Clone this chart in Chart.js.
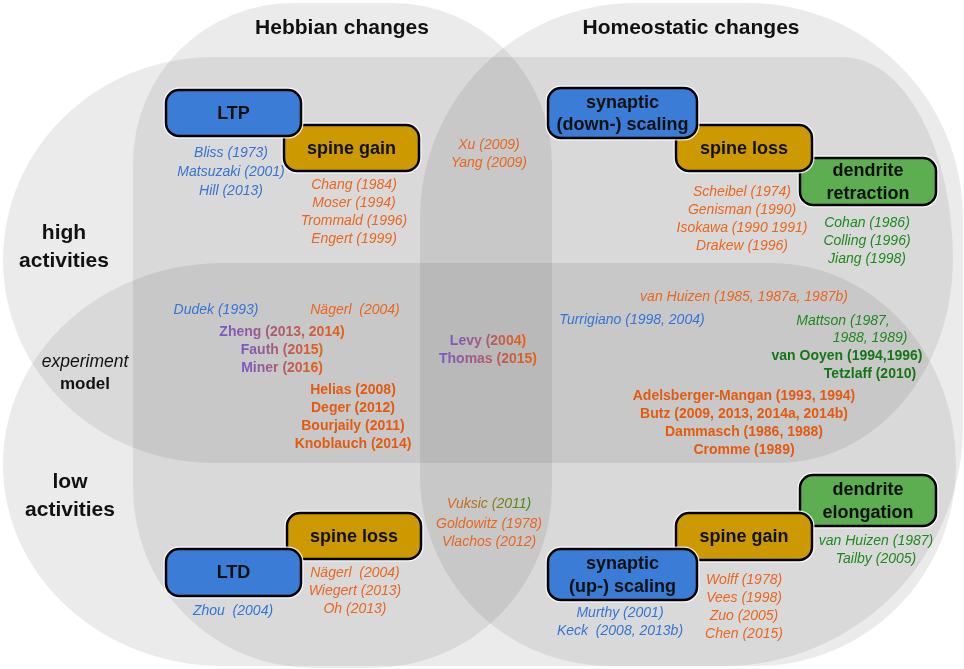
<!DOCTYPE html>
<html>
<head>
<meta charset="utf-8">
<script src="https://cdn.jsdelivr.net/npm/chart.js@4.4.1/dist/chart.umd.min.js"></script>
<style>
  html, body { margin: 0; padding: 0; background: #fff; }
  #wrap { width: 964px; height: 669px; }
</style>
</head>
<body>
<div id="wrap"><canvas id="diagram" width="964" height="669"></canvas></div>
<script>
// Headings
const columnTitles = ['Hebbian changes', 'Homeostatic changes'];
const highTitle = ['high', 'activities'];
const modeTitle = ['experiment', 'model'];
const lowTitle = ['low', 'activities'];

// Boxes (drawn green -> gold -> blue so blue ends on top)
const boxLabels = [
  ['dendrite', 'retraction'], ['dendrite', 'elongation'],
  ['spine gain'], ['spine loss'], ['spine loss'], ['spine gain'],
  ['LTP'], ['synaptic', '(down-) scaling'], ['LTD'], ['synaptic', '(up-) scaling'],
];
const boxKinds = ['green', 'green', 'gold', 'gold', 'gold', 'gold', 'blue', 'blue', 'blue', 'blue'];

// References
const ltpRefs = ['Bliss (1973)', 'Matsuzaki (2001)', 'Hill (2013)'];
const hebbGainRefs = ['Chang (1984)', 'Moser (1994)', 'Trommald (1996)', 'Engert (1999)'];
const bothHighRefs = ['Xu (2009)', 'Yang (2009)'];
const homeoLossRefs = ['Scheibel (1974)', 'Genisman (1990)', 'Isokawa (1990 1991)', 'Drakew (1996)'];
const retractionRefs = ['Cohan (1986)', 'Colling (1996)', 'Jiang (1998)'];
const dudekRefs = ['Dudek (1993)'];
const naegerlHighRefs = ['Nägerl  (2004)'];
const hebbMixedRefs = ['Zheng (2013, 2014)', 'Fauth (2015)', 'Miner (2016)'];
const hebbModelRefs = ['Helias (2008)', 'Deger (2012)', 'Bourjaily (2011)', 'Knoblauch (2014)'];
const bothMixedRefs = ['Levy (2004)', 'Thomas (2015)'];
const vanHuizenRefs = ['van Huizen (1985, 1987a, 1987b)'];
const turrigianoRefs = ['Turrigiano (1998, 2004)'];
const mattsonRefs = ['Mattson (1987,', '1988, 1989)'];
const greenModelRefs = ['van Ooyen (1994,1996)', 'Tetzlaff (2010)'];
const homeoModelRefs = ['Adelsberger-Mangan (1993, 1994)', 'Butz (2009, 2013, 2014a, 2014b)', 'Dammasch (1986, 1988)', 'Cromme (1989)'];
const vuksicRefs = ['Vuksic (2011)'];
const bothLowRefs = ['Goldowitz (1978)', 'Vlachos (2012)'];
const ltdRefs = ['Zhou  (2004)'];
const hebbLossRefs = ['Nägerl  (2004)', 'Wiegert (2013)', 'Oh (2013)'];
const elongationRefs = ['van Huizen (1987)', 'Tailby (2005)'];
const homeoGainRefs = ['Wolff (1978)', 'Vees (1998)', 'Zuo (2005)', 'Chen (2015)'];
const upScalingRefs = ['Murthy (2001)', 'Keck  (2008, 2013b)'];

// ---- layout (diagram units = 964 x 669) ----
const FONT = '"Liberation Sans", Arial, Helvetica, sans-serif';
const font = (style, size) => `${style} ${size}px ${FONT}`;

const palette = {
  black: '#111111',
  blue: '#3474d4',
  orange: '#e8661e',
  orangeBold: '#e35a10',
  green: '#1e891e',
  greenBold: '#157515',
  mixed: ['#7759c8', '#e8610f'],
  orangeGreen: ['#e8661e', '#3d8a14'],
};
const boxFills = { blue: '#3a7cd6', gold: '#cc9900', green: '#5cae50' };

// x0, y0, x1, y1, corners [tl, tr, br, bl] as [rx, ry]
const regionLayout = [
  [3, 57, 953, 463, [[210, 203], [110, 203], [175, 203], [210, 203]]],   // high activities
  [3, 263, 956, 666, [[220, 201], [185, 201], [200, 201], [220, 201]]],  // low activities
  [133, 3, 552, 668, [[160, 160], [160, 160], [180, 180], [180, 180]]],  // Hebbian
  [420, 3, 963, 666, [[215, 215], [215, 215], [240, 240], [190, 190]]],  // homeostatic
];

const boxLayout = [
  [800, 158, 936, 205], [800, 475, 936, 526],
  [284, 125, 419, 171], [676, 125, 812, 171], [287, 513, 421, 559], [676, 513, 812, 560],
  [166, 90, 301, 136], [548, 88, 697, 138], [166, 549, 301, 596], [548, 549, 697, 600],
];

const refLayout = [
  { lines: ltpRefs, x: 231, y: 153, step: 19, style: 'italic', color: 'blue' },
  { lines: hebbGainRefs, x: 354, y: 185, style: 'italic', color: 'orange' },
  { lines: bothHighRefs, x: 489, y: 145, style: 'italic', color: 'orange' },
  { lines: homeoLossRefs, x: 742, y: 192, style: 'italic', color: 'orange' },
  { lines: retractionRefs, x: 867, y: 223, style: 'italic', color: 'green' },
  { lines: dudekRefs, x: 216, y: 310, style: 'italic', color: 'blue' },
  { lines: naegerlHighRefs, x: 355, y: 310, style: 'italic', color: 'orange' },
  { lines: hebbMixedRefs, x: 282, y: 332, style: 'bold', color: 'mixed' },
  { lines: hebbModelRefs, x: 353, y: 390, style: 'bold', color: 'orangeBold' },
  { lines: bothMixedRefs, x: 488, y: 341, style: 'bold', color: 'mixed' },
  { lines: vanHuizenRefs, x: 744, y: 297, style: 'italic', color: 'orange' },
  { lines: turrigianoRefs, x: 632, y: 320, style: 'italic', color: 'blue' },
  { lines: mattsonRefs, x: [843, 870], y: 321, step: 17.5, style: 'italic', color: 'green' },
  { lines: greenModelRefs, x: [847, 870], y: 356, style: 'bold', color: 'greenBold' },
  { lines: homeoModelRefs, x: 744, y: 396, style: 'bold', color: 'orangeBold' },
  { lines: vuksicRefs, x: 489, y: 504, style: 'italic', color: 'orangeGreen' },
  { lines: bothLowRefs, x: 489, y: 524, style: 'italic', color: 'orange' },
  { lines: ltdRefs, x: 233, y: 611, style: 'italic', color: 'blue' },
  { lines: hebbLossRefs, x: 355, y: 573, style: 'italic', color: 'orange' },
  { lines: elongationRefs, x: 876, y: 541, style: 'italic', color: 'green' },
  { lines: homeoGainRefs, x: 744, y: 580, style: 'italic', color: 'orange' },
  { lines: upScalingRefs, x: 620, y: 613, style: 'italic', color: 'blue' },
];

// ---- datasets: one invisible scatter set per text group ----
const datasets = [];
const addText = (lines, xs, y0, step, fonts, color) => {
  datasets.push({
    type: 'scatter',
    data: lines.map((t, i) => ({ x: Array.isArray(xs) ? xs[i] : xs, y: y0 + i * step })),
    texts: lines,
    fonts: lines.map((t, i) => Array.isArray(fonts) ? fonts[i] : fonts),
    color: color,
    pointRadius: 0,
    pointHoverRadius: 0,
  });
};

addText([columnTitles[0]], 342, 28, 0, font('bold', 21), 'black');
addText([columnTitles[1]], 691, 28, 0, font('bold', 21), 'black');
addText(highTitle, 64, 233, 28, font('bold', 21), 'black');
addText(modeTitle, 85, 362, 22, [font('italic', 17.5), font('bold', 17)], 'black');
addText(lowTitle, 70, 482, 28, font('bold', 21), 'black');

boxLabels.forEach((lines, i) => {
  const [x0, y0, x1, y1] = boxLayout[i];
  const cx = (x0 + x1) / 2;
  const cy = (y0 + y1) / 2;
  const step = 22.5;
  addText(lines, cx, cy - (lines.length - 1) * step / 2 + 1, step, font('bold', 18), 'black');
});

refLayout.forEach(g => {
  addText(g.lines, g.x, g.y, g.step || 18, font(g.style, 14), g.color);
});

// ---- drawing helpers ----
function regionPath(ctx, x0, y0, x1, y1, c) {
  const [tl, tr, br, bl] = c;
  ctx.beginPath();
  ctx.moveTo(x0 + tl[0], y0);
  ctx.lineTo(x1 - tr[0], y0);
  ctx.ellipse(x1 - tr[0], y0 + tr[1], tr[0], tr[1], 0, -Math.PI / 2, 0);
  ctx.lineTo(x1, y1 - br[1]);
  ctx.ellipse(x1 - br[0], y1 - br[1], br[0], br[1], 0, 0, Math.PI / 2);
  ctx.lineTo(x0 + bl[0], y1);
  ctx.ellipse(x0 + bl[0], y1 - bl[1], bl[0], bl[1], 0, Math.PI / 2, Math.PI);
  ctx.lineTo(x0, y0 + tl[1]);
  ctx.ellipse(x0 + tl[0], y0 + tl[1], tl[0], tl[1], 0, Math.PI, Math.PI * 1.5);
  ctx.closePath();
}

const diagramPlugin = {
  id: 'diagram',
  beforeDatasetsDraw(chart) {
    const { ctx, scales: { x, y } } = chart;
    const sx = Math.abs(x.getPixelForValue(1) - x.getPixelForValue(0));
    const sy = Math.abs(y.getPixelForValue(1) - y.getPixelForValue(0));
    ctx.save();

    // translucent overlapping regions
    ctx.fillStyle = 'rgba(0,0,0,0.08)';
    regionLayout.forEach(([x0, y0, x1, y1, corners]) => {
      regionPath(ctx,
        x.getPixelForValue(x0), y.getPixelForValue(y0),
        x.getPixelForValue(x1), y.getPixelForValue(y1),
        corners.map(([rx, ry]) => [rx * sx, ry * sy]));
      ctx.fill();
    });

    // category boxes
    boxLayout.forEach(([x0, y0, x1, y1], i) => {
      const left = x.getPixelForValue(x0);
      const top = y.getPixelForValue(y0);
      const w = x.getPixelForValue(x1) - left;
      const h = y.getPixelForValue(y1) - top;
      ctx.beginPath();
      ctx.roundRect(left, top, w, h, 13 * sx);
      ctx.lineWidth = 5;
      ctx.strokeStyle = 'rgba(255,255,255,0.85)';
      ctx.stroke();
      ctx.fillStyle = boxFills[boxKinds[i]];
      ctx.fill();
      ctx.lineWidth = 2.5;
      ctx.strokeStyle = '#000';
      ctx.stroke();
    });
    ctx.restore();
  },
  afterDatasetsDraw(chart) {
    const { ctx } = chart;
    ctx.save();
    ctx.textAlign = 'center';
    ctx.textBaseline = 'middle';
    chart.data.datasets.forEach((ds, i) => {
      const meta = chart.getDatasetMeta(i);
      meta.data.forEach((pt, j) => {
        const text = ds.texts[j];
        ctx.font = ds.fonts[j];
        let fill = palette[ds.color];
        if (Array.isArray(fill)) {
          const w = ctx.measureText(text).width;
          const g = ctx.createLinearGradient(pt.x - w / 2, 0, pt.x + w / 2, 0);
          g.addColorStop(0, fill[0]);
          g.addColorStop(1, fill[1]);
          fill = g;
        }
        ctx.fillStyle = fill;
        ctx.fillText(text, pt.x, pt.y);
      });
    });
    ctx.restore();
  },
};

new Chart(document.getElementById('diagram'), {
  type: 'scatter',
  data: { datasets },
  options: {
    responsive: false,
    animation: false,
    events: [],
    layout: { padding: 0 },
    plugins: { legend: { display: false }, tooltip: { enabled: false } },
    scales: {
      x: { type: 'linear', min: 0, max: 964, display: false },
      y: { type: 'linear', min: 0, max: 669, reverse: true, display: false },
    },
  },
  plugins: [diagramPlugin],
});
</script>
</body>
</html>
